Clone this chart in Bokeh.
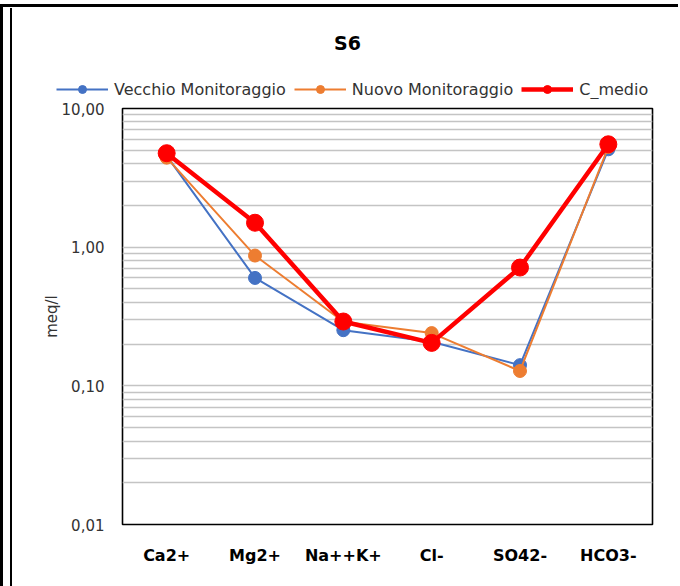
from bokeh.plotting import figure
from bokeh.models import FactorRange, Range1d, FixedTicker, Legend, LegendItem, Label
from bokeh.layouts import column
from bokeh.embed import file_html
from bokeh.resources import INLINE

categories = ["Ca2+", "Mg2+", "Na++K+", "Cl-", "SO42-", "HCO3-"]
vecchio = [4.55, 0.60, 0.252, 0.208, 0.141, 5.08]
nuovo = [4.42, 0.87, 0.290, 0.240, 0.128, 5.28]
c_medio = [4.76, 1.50, 0.291, 0.204, 0.713, 5.52]
series_names = ["Vecchio Monitoraggio", "Nuovo Monitoraggio", "C_medio"]
chart_title = "S6"
y_ticks = [0.01, 0.1, 1, 10]
y_tick_labels = ["0,01", "0,10", "1,00", "10,00"]
y_minor_ticks = [m * t for t in [0.01, 0.1, 1] for m in range(2, 10)]

FONT = "DejaVu Sans"
W = 668
H_TOP = 91
H_MAIN = 487

colors = ["#4472C4", "#ED7D31", "#FF0000"]
widths = [2, 2, 4.5]
sizes = [13, 13, 17]

# ---- header: title + legend ----
top = figure(width=W, height=H_TOP, x_range=Range1d(0, W), y_range=Range1d(0, H_TOP),
             output_backend="svg", toolbar_location=None,
             min_border_left=0, min_border_right=0, min_border_top=0, min_border_bottom=0,
             background_fill_color="white", border_fill_color="white")
top.frame_align = False
top.axis.visible = False
top.grid.visible = False
top.outline_line_color = None

nan = float("nan")
items = []
for name, c, lw in zip(series_names, colors, widths):
    rl = top.line(x=[nan], y=[nan], line_color=c, line_width=lw)
    rs = top.scatter(x=[nan], y=[nan], size=10, fill_color=c, line_color=c)
    items.append(LegendItem(label=name, renderers=[rl, rs]))

legend = Legend(items=items, orientation="horizontal", location=(44, 0),
                glyph_width=52, glyph_height=20, label_standoff=6, spacing=8,
                padding=0, margin=0, border_line_color=None,
                background_fill_alpha=0, label_text_font=FONT,
                label_text_font_size="16px", label_text_color="#333333")
top.add_layout(legend)
top.add_layout(Label(x=335, y=57, x_units="screen", y_units="screen", text=chart_title,
                     text_font=FONT, text_font_style="bold", text_font_size="19px",
                     text_align="center", text_baseline="middle", text_color="black"))

# ---- main chart ----
p = figure(width=W, height=H_MAIN,
           x_range=FactorRange(factors=categories, range_padding=0),
           y_range=Range1d(0.01, 10), y_axis_type="log",
           output_backend="svg", toolbar_location=None,
           min_border_left=110, min_border_right=28,
           min_border_top=9, min_border_bottom=62,
           background_fill_color="white", border_fill_color="white")
p.frame_align = False
p.outline_line_color = "black"
p.outline_line_width = 1.6

tick = FixedTicker(ticks=y_ticks, minor_ticks=y_minor_ticks)
p.yaxis.ticker = tick
p.ygrid.ticker = tick
p.ygrid.grid_line_color = "#c4c4c4"
p.ygrid.grid_line_width = 1.6
p.ygrid.minor_grid_line_color = "#c4c4c4"
p.ygrid.minor_grid_line_width = 1.6
p.xgrid.grid_line_color = None

p.yaxis.major_label_overrides = dict(zip(y_ticks, y_tick_labels))
for ax in (p.xaxis[0], p.yaxis[0]):
    ax.axis_line_color = None
    ax.major_tick_line_color = None
    ax.minor_tick_line_color = None
p.yaxis.major_label_text_font = FONT
p.yaxis.major_label_text_font_size = "15px"
p.yaxis.major_label_text_color = "#333333"
p.yaxis.major_label_standoff = 12
p.yaxis.axis_label = "meq/l"
p.yaxis.axis_label_text_font = FONT
p.yaxis.axis_label_text_font_style = "normal"
p.yaxis.axis_label_text_font_size = "15px"
p.yaxis.axis_label_text_color = "#333333"
p.yaxis.axis_label_standoff = -2
p.xaxis.major_label_text_font = FONT
p.xaxis.major_label_text_font_style = "bold"
p.xaxis.major_label_text_font_size = "16px"
p.xaxis.major_label_standoff = 15
p.xaxis.major_label_text_color = "black"

for vals, c, lw, sz in zip([vecchio, nuovo, c_medio], colors, widths, sizes):
    p.line(categories, vals, line_color=c, line_width=lw)
    p.scatter(categories, vals, size=sz, fill_color=c, line_color=c)

top.styles = {"border-left": "2px solid black"}
p.styles = {"border-left": "2px solid black"}
layout = column(top, p, spacing=0,
                styles={"border-top": "3px solid black", "border-left": "3px solid black",
                        "padding-left": "7px", "padding-top": "1px", "margin-top": "4px"})

open("out.html", "w").write(file_html(layout, INLINE))
